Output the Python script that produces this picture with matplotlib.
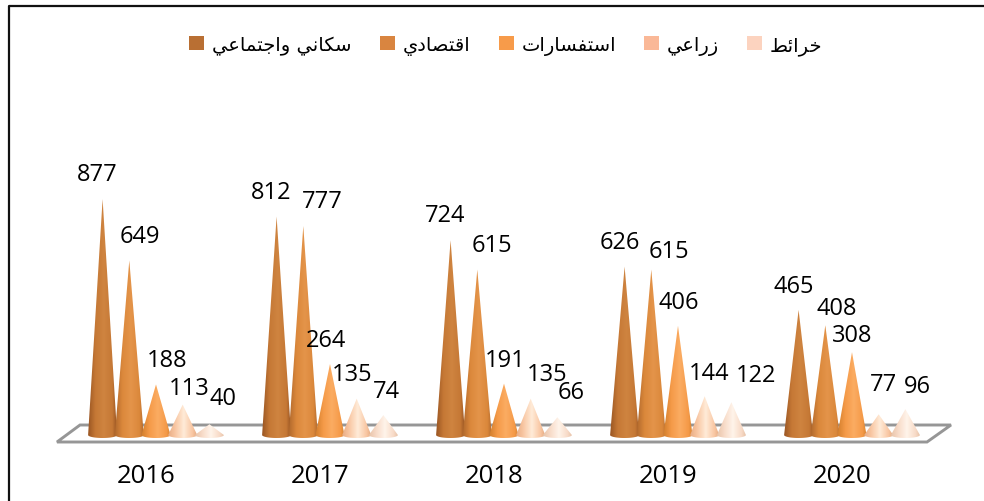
import numpy as np
import matplotlib
matplotlib.use('Agg')
import matplotlib.pyplot as plt
from matplotlib.colors import LinearSegmentedColormap
from matplotlib.lines import Line2D
from matplotlib.patches import Patch, PathPatch, Polygon
from matplotlib.path import Path

W, H = 984, 502

years = ['2016', '2017', '2018', '2019', '2020']
series_names = ['سكاني واجتماعي', 'اقتصادي', 'استفسارات', 'زراعي', 'خرائط']
sukkani = [877, 812, 724, 626, 465]
iqtisadi = [649, 777, 615, 615, 408]
istifsarat = [188, 264, 191, 406, 308]
ziraei = [113, 135, 135, 144, 77]
khara2it = [40, 74, 66, 122, 96]
values = [sukkani, iqtisadi, istifsarat, ziraei, khara2it]

legend_colors = ['#B96F33', '#D98540', '#F79B4A', '#FAB897', '#FCD3BF']
# edge, middle, highlight of each cone
cone_colors = [
    ['#9A5623', '#C57835', '#CF8440'],
    ['#B36A2D', '#DB883B', '#E4944A'],
    ['#D5812F', '#F59A48', '#FBAC62'],
    ['#E8AC84', '#F9C7A3', '#FFEBD8'],
    ['#E8C4AA', '#F8DBC8', '#FFF4EA'],
]

# label offsets from the cone tip, in pixels (the labels were placed by hand)
label_dx = [[-5, 11, 11, 6, 14], [-5, 19, -4, -5, 3], [-5, 15, 1, 16, 14],
            [-5, 18, 1, 4, 25], [-5, 11, 0, 5, 12]]
label_dy = [[25, 24, 24, 17, 26], [25, 25, 24, 25, 24], [25, 25, 24, 25, 25],
            [25, 19, 24, 23, 27], [24, 17, 17, 30, 23]]

# matplotlib has no arabic shaping, so pick the presentation forms here
FORMS = {
    'ا': (0xFE8D, 0xFE8E), 'د': (0xFEA9, 0xFEAA), 'ر': (0xFEAD, 0xFEAE),
    'ز': (0xFEAF, 0xFEB0), 'و': (0xFEED, 0xFEEE),
    'ئ': (0xFE89, 0xFE8A, 0xFE8B, 0xFE8C), 'ت': (0xFE95, 0xFE96, 0xFE97, 0xFE98),
    'ج': (0xFE9D, 0xFE9E, 0xFE9F, 0xFEA0), 'خ': (0xFEA5, 0xFEA6, 0xFEA7, 0xFEA8),
    'س': (0xFEB1, 0xFEB2, 0xFEB3, 0xFEB4), 'ص': (0xFEB9, 0xFEBA, 0xFEBB, 0xFEBC),
    'ط': (0xFEC1, 0xFEC2, 0xFEC3, 0xFEC4), 'ع': (0xFEC9, 0xFECA, 0xFECB, 0xFECC),
    'ف': (0xFED1, 0xFED2, 0xFED3, 0xFED4), 'ق': (0xFED5, 0xFED6, 0xFED7, 0xFED8),
    'ك': (0xFED9, 0xFEDA, 0xFEDB, 0xFEDC), 'م': (0xFEE1, 0xFEE2, 0xFEE3, 0xFEE4),
    'ن': (0xFEE5, 0xFEE6, 0xFEE7, 0xFEE8), 'ي': (0xFEF1, 0xFEF2, 0xFEF3, 0xFEF4),
}


def shape(text):
    out = []
    for i, ch in enumerate(text):
        if ch not in FORMS:
            out.append(ch)
            continue
        prev = text[i - 1] if i > 0 else ' '
        nxt = text[i + 1] if i < len(text) - 1 else ' '
        joins_prev = prev in FORMS and len(FORMS[prev]) == 4
        joins_next = nxt in FORMS and len(FORMS[ch]) == 4
        if len(FORMS[ch]) == 2:
            out.append(chr(FORMS[ch][1 if joins_prev else 0]))
        else:
            idx = {(False, False): 0, (True, False): 1,
                   (False, True): 2, (True, True): 3}[(joins_prev, joins_next)]
            out.append(chr(FORMS[ch][idx]))
    return ''.join(out)[::-1]


fig = plt.figure(figsize=(W / 100, H / 100), dpi=100, facecolor='white')

PX_X = 174.0    # pixels per category
PX_Y = 0.269    # pixels per unit
BASE_PX = 436
AX_BOTTOM = 445
ax = fig.add_axes([0, (H - AX_BOTTOM) / H, 1, AX_BOTTOM / H])
x_lo, x_hi = -156 / PX_X, (W - 156) / PX_X
y_lo, y_hi = (BASE_PX - AX_BOTTOM) / PX_Y, BASE_PX / PX_Y


def figxy(x, y):
    return x / W, 1 - y / H


# only the top and left of the outer frame show in the crop
fig.add_artist(Line2D([8.5 / W, 8.5 / W, 1], [0, 1 - 6.5 / H, 1 - 6.5 / H],
                      transform=fig.transFigure, color='#111111', lw=1.6))
floor = Polygon([figxy(57, 443), figxy(80, 426), figxy(951, 426), figxy(927, 443)],
                closed=True, transform=fig.transFigure, fill=False, ec='#969696', lw=2.1)
ax.add_patch(floor)

half_w = 14.5 / PX_X
spacing = 26.7 / PX_X
base_h = 3 / PX_Y
t = np.linspace(np.pi, 2 * np.pi, 30)
shade_x = np.linspace(0, 1, 64)

for j, series in enumerate(values):
    cmap = LinearSegmentedColormap.from_list('c%d' % j, [
        (0, cone_colors[j][0]), (0.25, cone_colors[j][1]), (0.55, cone_colors[j][2]),
        (0.85, cone_colors[j][1]), (1, cone_colors[j][0])])
    for i, v in enumerate(series):
        cx = i + (j - 2) * spacing
        arc_x = cx + half_w * np.cos(t)
        arc_y = base_h * np.sin(t)
        verts = np.vstack([[[cx, v]], np.column_stack([arc_x, arc_y]), [[cx, v]]])
        clip = PathPatch(Path(verts, closed=True), transform=ax.transData, fc='none', ec='none')
        ax.add_patch(clip)
        im = ax.imshow(shade_x[None, :], cmap=cmap, aspect='auto', interpolation='bilinear',
                       extent=(cx - half_w, cx + half_w, -base_h, v), zorder=3 + j)
        im.set_clip_path(clip)
        ax.annotate(str(v), (cx, v), xytext=(label_dx[i][j], label_dy[i][j]),
                    textcoords='offset pixels', ha='center', va='center',
                    family='Open Sans', fontsize=17, color='black', zorder=20)

ax.set_xlim(x_lo, x_hi)
ax.set_ylim(y_lo, y_hi)
for s in ax.spines.values():
    s.set_visible(False)
ax.patch.set_alpha(0)
ax.set_yticks([])
ax.set_xticks(np.arange(len(years)) - 10 / PX_X)
ax.set_xticklabels(years, family='Open Sans', fontsize=18.5)
ax.tick_params(axis='x', length=0, pad=14)

handles = [Patch(fc=c, ec='none') for c in legend_colors]
ax.legend(handles, [shape(n) for n in series_names], ncol=5, frameon=False,
          loc='center', bbox_to_anchor=(506 / W, 1 - 46 / AX_BOTTOM),
          prop={'family': 'DejaVu Sans', 'size': 14},
          handlelength=0.77, handleheight=0.77, handletextpad=0.4, columnspacing=1.45)

plt.savefig('out.png', dpi=100)
